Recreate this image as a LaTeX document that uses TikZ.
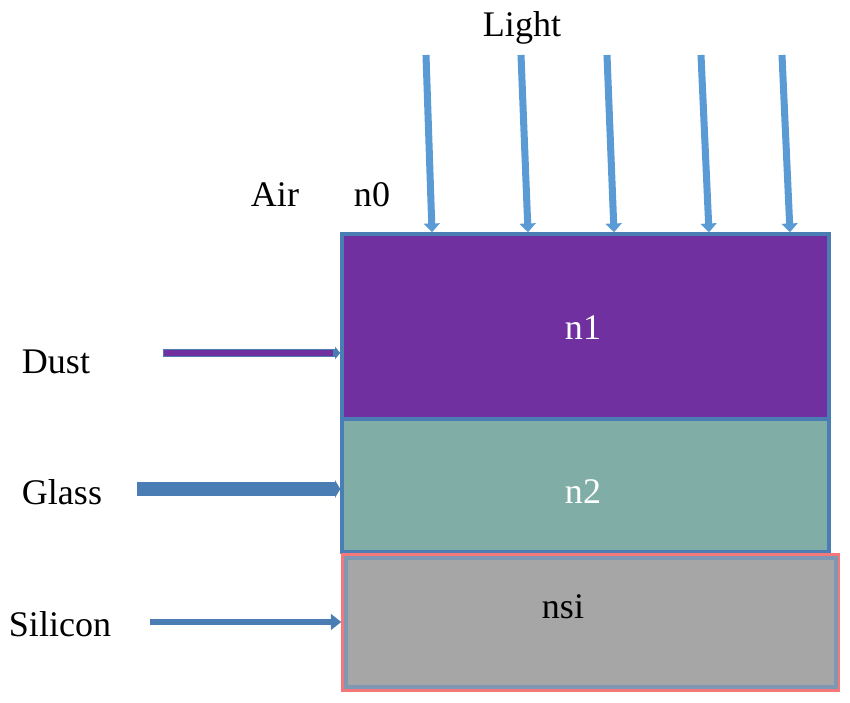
\documentclass[tikz,border=0pt]{standalone}
\usepackage{fontspec}
\setmainfont{Liberation Serif}
\usetikzlibrary{arrows.meta}
\definecolor{dustpurple}{HTML}{7030A0}
\definecolor{glassteal}{HTML}{80ADA6}
\definecolor{silgray}{HTML}{A6A6A6}
\definecolor{edgeblue}{HTML}{4A7DB4}
\definecolor{raybluec}{HTML}{5B9BD5}
\definecolor{sired}{HTML}{F4777A}
\definecolor{siedge}{HTML}{7E97B2}
\begin{document}
\begin{tikzpicture}[x=0.02cm,y=-0.02cm,
  txt/.style={font=\fontsize{20.5}{24}\selectfont},
  layer/.style={draw=edgeblue,line width=2pt,minimum width=9.74cm,inner sep=0pt},
  ray/.style={draw=raybluec,line width=4pt,-{Triangle[length=5pt,width=9pt]}}]
\useasboundingbox (0,0) rectangle (850,703);

% Layers
\node[layer,fill=dustpurple,minimum height=3.7cm] (n1) at (585.5,326.5) {};
\node[layer,fill=glassteal,minimum height=2.66cm] (n2) at (585.5,485.5) {};
\node[draw=sired,line width=2pt,fill=silgray,minimum width=9.9cm,minimum height=2.7cm,inner sep=0pt] (si) at (590.5,622.5) {};
\draw[siedge,line width=2.5pt] ([shift={(5,5)}]si.north west) rectangle ([shift={(-4,-5)}]si.south east);

% Layer texts
\node[txt,white] (tn1) at (583,328) {n1};
\node[txt,white] (tn2) at (583,492) {n2};
\node[txt] (tnsi) at (563,607) {nsi};

% Incident light
\node[txt] (light) at (522,28) {Light};
\foreach \xs/\xe [count=\i] in {426/432,521/528,607/614,701/709,782/790} {
    \coordinate (ray\i) at (\xs,55);
    \draw[ray] (ray\i) -- (\xe,0 |- n1.north);
}

% Side labels
\node[txt] (air) at (275,195) {Air};
\node[txt] (n0) at (372,195) {n0};
\node[txt] (dust) at (56,362) {Dust};
\node[txt] (glass) at (62,492) {Glass};
\node[txt] (silicon) at (60,624) {Silicon};

% Pointers to the layers
\coordinate (pdust) at (163,353);
\coordinate (pglass) at (137,489);
\coordinate (psil) at (150,622);
\draw[edgeblue,line width=5pt,-{Triangle[length=3pt,width=7pt]}] (pdust) -- (pdust -| n1.west);
\draw[dustpurple,line width=3.2pt,shorten >=4pt,shorten <=0.8pt] (pdust) -- (pdust -| n1.west);
\draw[edgeblue,line width=7.5pt,-{Triangle[length=3pt,width=10pt]}] (pglass) -- (pglass -| n2.west);
\draw[edgeblue,line width=3.6pt,-{Triangle[length=6pt,width=9pt]}] (psil) -- (psil -| si.west);
\end{tikzpicture}
\end{document}
